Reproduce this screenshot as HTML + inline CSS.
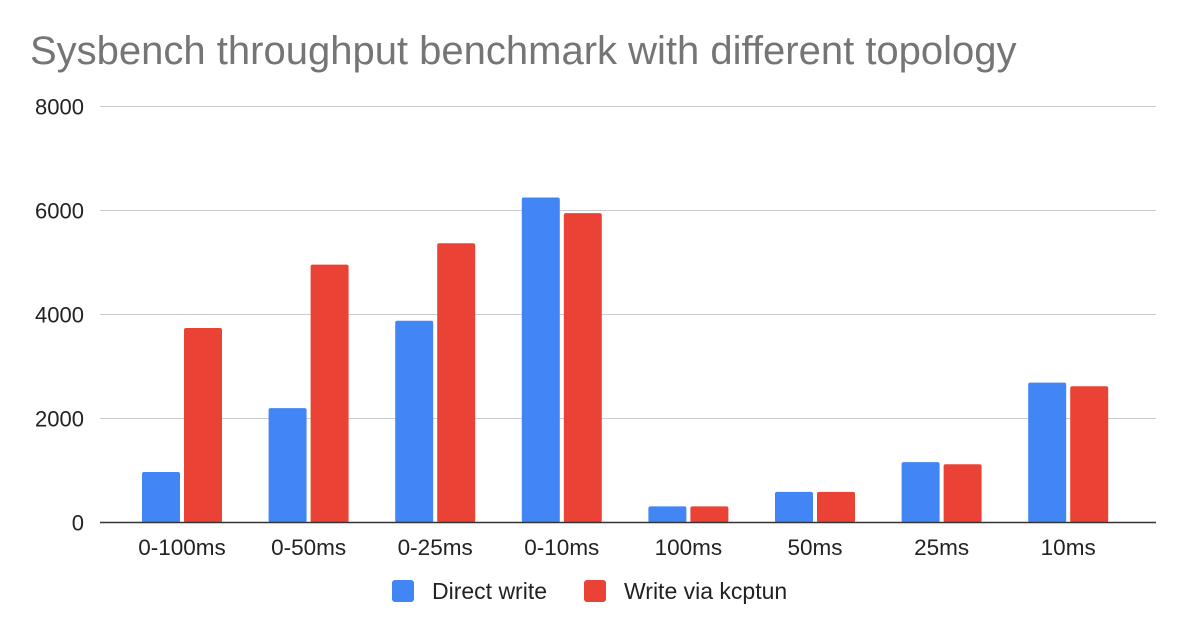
<!DOCTYPE html>
<html><head><meta charset="utf-8"><style>
body{margin:0;background:#fff;font-family:"Liberation Sans",Arial,sans-serif}
svg{display:block}
</style></head><body>
<svg id="c" width="1186" height="636">
<text x="30" y="64" font-size="40" fill="#757575">Sysbench throughput benchmark with different topology</text>
<g id="grid"></g><g id="bars"></g><g id="xl"></g>
<g>
<rect x="392" y="580" width="22" height="22" rx="3" fill="#4285f4"/>
<text x="432" y="599" font-size="23" fill="#222">Direct write</text>
<rect x="584" y="580" width="22" height="22" rx="3" fill="#ea4335"/>
<text x="624" y="599" font-size="23" fill="#222">Write via kcptun</text>
</g>
</svg>
<script>
const categories=["0-100ms","0-50ms","0-25ms","0-10ms","100ms","50ms","25ms","10ms"];
const directWrite=[970,2200,3880,6250,310,590,1160,2690];
const kcptunWrite=[3740,4960,5370,5950,310,590,1120,2620];
const yTicks=[0,2000,4000,6000,8000];
const NS="http://www.w3.org/2000/svg";
const y0=522.5,yk=52/1000,x0=182,step=126.6;
const Y=v=>y0-v*yk, X=i=>x0+i*step;
function mk(t,a,p){const e=document.createElementNS(NS,t);for(const k in a)e.setAttribute(k,a[k]);p.appendChild(e);return e;}
const g=document.getElementById('grid');
yTicks.forEach(t=>{
 if(t>0){const l=mk('line',{x1:100,x2:1156,y1:Y(t),y2:Y(t),stroke:'#ccc','stroke-width':1},g);
 
 }
 const tx=mk('text',{x:84,y:Y(t)+8,'text-anchor':'end','font-size':22,fill:'#222'},g);tx.textContent=t;
 
 
});
const b=document.getElementById('bars'),xl=document.getElementById('xl');
categories.forEach((c,i)=>{
 const cx=X(i);
 const r1=mk('rect',{x:cx-40,y:Y(directWrite[i]),width:38,height:directWrite[i]*yk,rx:2,fill:'#4285f4'},b);
 
 
 const r2=mk('rect',{x:cx+2,y:Y(kcptunWrite[i]),width:38,height:kcptunWrite[i]*yk,rx:2,fill:'#ea4335'},b);
 
 
 const t=mk('text',{x:cx,y:555,'text-anchor':'middle','font-size':22.5,fill:'#222'},xl);t.textContent=c;
 
 
});
const ax=mk('line',{x1:100,x2:1156,y1:y0,y2:y0,stroke:'#333','stroke-width':1.5},document.getElementById('c'));


</script>
</body></html>
